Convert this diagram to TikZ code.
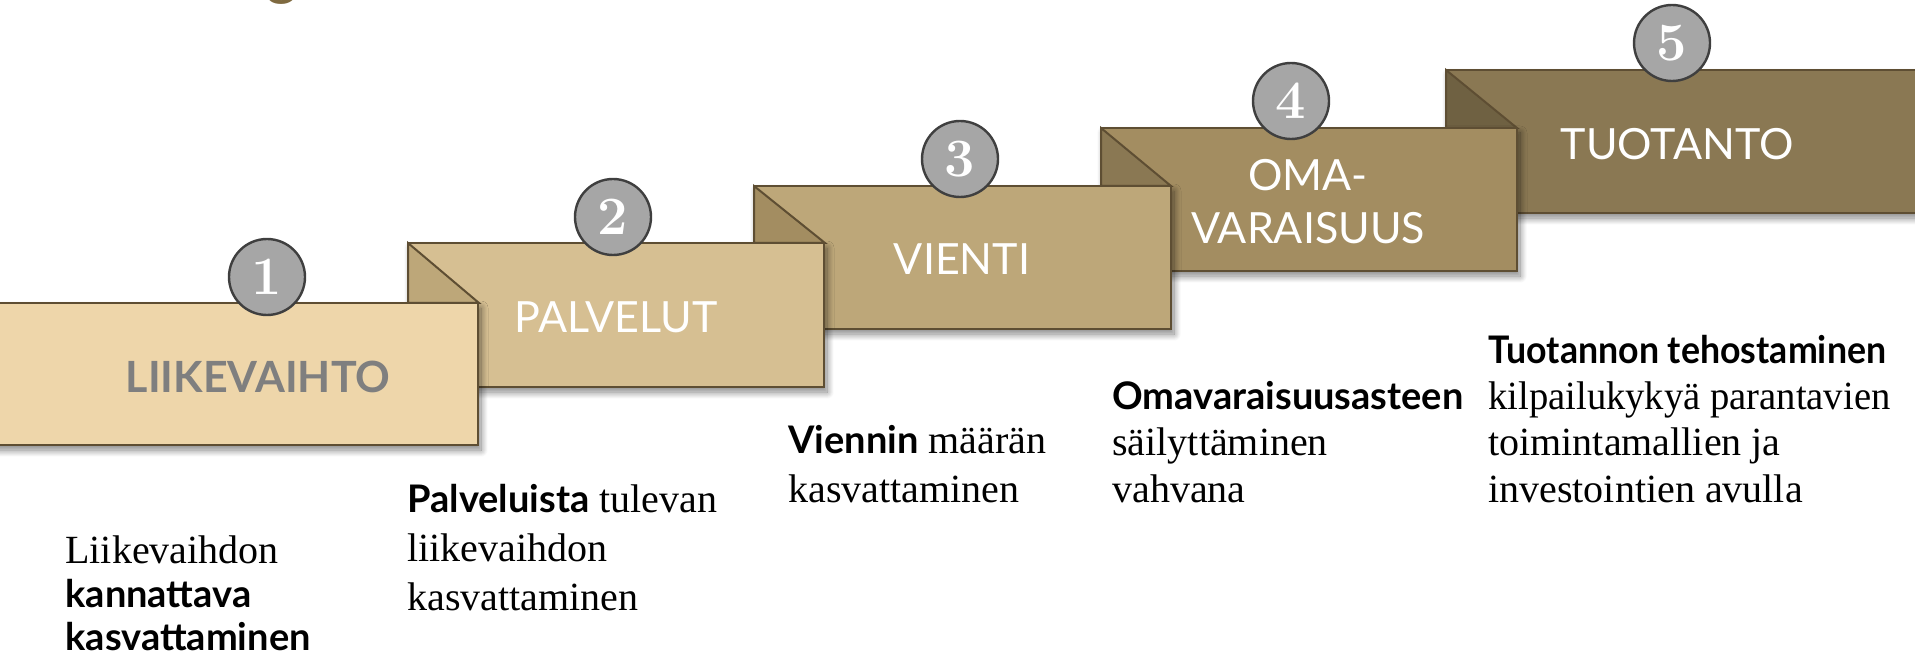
\documentclass[tikz,border=0pt]{standalone}
\usepackage{fontspec}
\usepackage{graphicx}
\newfontfamily\lato{Lato}
\newfontfamily\serif{Liberation Serif}
\usetikzlibrary{shadows.blur}
\definecolor{c1}{HTML}{EED6AA}
\definecolor{c2}{HTML}{D6BF92}
\definecolor{c3}{HTML}{BDA779}
\definecolor{c4}{HTML}{A38D61}
\definecolor{c5}{HTML}{8A7853}
\definecolor{c6}{HTML}{6F6142}
\definecolor{edge}{HTML}{5E4E33}
\definecolor{numfill}{HTML}{A6A6A6}
\definecolor{numedge}{HTML}{3F3F3F}
\definecolor{titlebrown}{HTML}{7F6A40}
\definecolor{labgray}{HTML}{7F7F7F}
\newcommand{\bsans}{\lato\bfseries\fontsize{19}{23}\selectfont}
\begin{document}
\begin{tikzpicture}[x=0.5pt,y=-0.5pt,
  band/.style={draw=edge, line width=1pt, line join=miter,
    blur shadow={shadow xshift=1.5pt, shadow yshift=-2.5pt, shadow blur radius=3.5pt, shadow blur steps=14, shadow opacity=50}},
  fold/.style={draw=edge, line width=1pt, line join=miter},
  num/.style={circle, draw=numedge, line width=1.2pt, fill=numfill, minimum size=38pt, inner sep=0pt, text=white, font=\fontsize{27}{27}\selectfont\bfseries},
  lab/.style={text=white, font=\lato\fontsize{21.5}{26.5}\selectfont, inner sep=0pt, align=center},
  body/.style={anchor=base west, inner sep=0pt, text=black, font=\serif\fontsize{20}{24}\selectfont},
  strong/.style={font=\bsans}
]
\useasboundingbox (0,0) rectangle (1915,657);
\clip (0,0) rectangle (1915,657);

% title fragment
\node[anchor=base, inner sep=0pt, text=titlebrown, font=\lato\fontsize{30}{30}\selectfont] (title) at (282,-6) {g};

% box 5
\path[band, fill=c5] (1446,70) rectangle (1940,213);
\path[fold, fill=c6] (1446,70) -- (1446,128) -- (1517,128) -- cycle;
\node[lab] (lab5) at (1677,144) {TUOTANTO};
\node[num] (n5) at (1672,43) {5};

% box 4
\path[band, fill=c4] (1101,128) rectangle (1517,271);
\path[fold, fill=c5] (1101,128) -- (1101,186) -- (1171,186) -- cycle;
\node[lab] (lab4) at (1308,201.5) {OMA-\\VARAISUUS};
\node[num] (n4) at (1291,101) {4};

% box 3
\path[band, fill=c3] (754,186) rectangle (1171,329);
\path[fold, fill=c4] (754,186) -- (754,243) -- (825,243) -- cycle;
\node[lab] (lab3) at (962,259) {VIENTI};
\node[num] (n3) at (960,159) {3};

% box 2
\path[band, fill=c2] (408,243) rectangle (824,387);
\path[fold, fill=c3] (408,243) -- (408,303) -- (479,303) -- cycle;
\node[lab] (lab2) at (616,317) {PALVELUT};
\node[num] (n2) at (613,217) {2};

% box 1
\path[band, fill=c1] (-20,303) rectangle (478,445);
\node[lab, text=labgray, font=\lato\bfseries\fontsize{21.5}{26}\selectfont] (lab1) at (258,376.5) {LIIKEVAIHTO};
\node[num] (n1) at (267,277) {1};

% texts below
\node[body] (t1a) at (65,563) {Liikevaihdon};
\node[body, strong] (t1b) at (65,607) {kannattava};
\node[body, strong] (t1c) at (65,650) {kasvattaminen};

\node[body] (t2a) at (407,512) {{\bsans Palveluista} tulevan};
\node[body] (t2b) at (407,561) {liikevaihdon};
\node[body] (t2c) at (407,610) {kasvattaminen};

\node[body] (t3a) at (788,453) {{\bsans Viennin} määrän};
\node[body] (t3b) at (788,502) {kasvattaminen};

\node[body, strong] (t4a) at (1112,409) {Omavaraisuusasteen};
\node[body] (t4b) at (1112,455) {säilyttäminen};
\node[body] (t4c) at (1112,502) {vahvana};

\node[body, strong] (t5a) at (1488,364) {\scalebox{0.94}[1]{Tuotannon tehostaminen}};
\node[body] (t5b) at (1488,409) {\scalebox{0.965}[1]{kilpailukykyä parantavien}};
\node[body] (t5c) at (1488,455) {toimintamallien ja};
\node[body] (t5d) at (1488,502) {investointien avulla};
\end{tikzpicture}
\end{document}
